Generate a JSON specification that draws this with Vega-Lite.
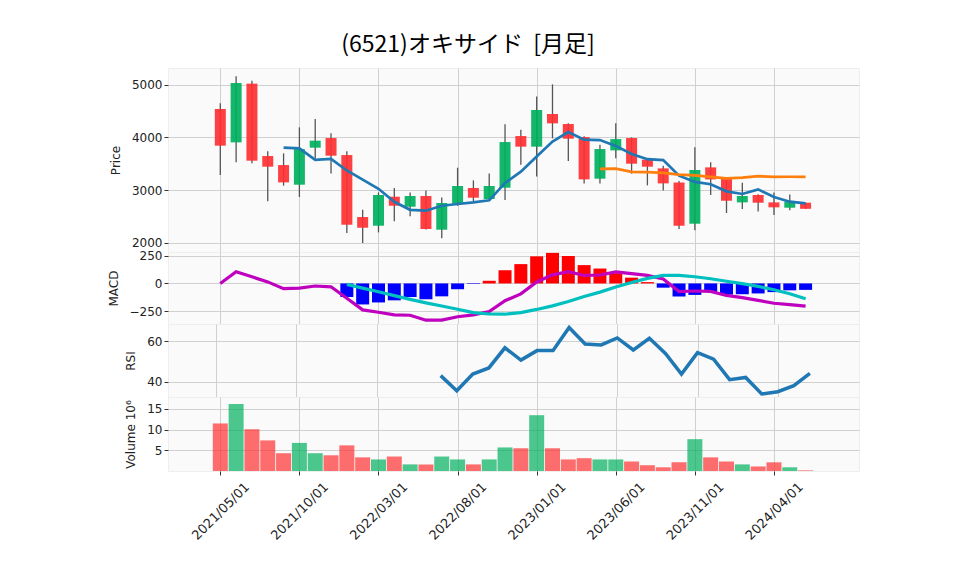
{
  "$schema": "https://vega.github.io/schema/vega-lite/v6.json",
  "padding": {"left": 106, "top": 33, "right": 5, "bottom": 5},
  "bounds": "flush",
  "title": {"text": "(6521)オキサイド\u00a0\u00a0[月足]", "font": "Noto Sans CJK JP", "fontSize": 23, "fontWeight": "normal", "color": "#000", "anchor": "middle", "offset": 11, "dx": -15},
  "datasets": {
    "d": [
      {"i":0,"d":"2021/05/01","o":4538,"h":4646,"l":3285,"c":3842,"v":11.5,"ma5":null,"ma25":null,"macd":0,"sig":null,"hist":null,"rsi":null},
      {"i":1,"d":"2021/06/01","o":3905,"h":5158,"l":3525,"c":5032,"v":16.2,"ma5":null,"ma25":null,"macd":105,"sig":null,"hist":null,"rsi":null},
      {"i":2,"d":"2021/07/01","o":5020,"h":5076,"l":3506,"c":3557,"v":10.1,"ma5":null,"ma25":null,"macd":60,"sig":null,"hist":null,"rsi":null},
      {"i":3,"d":"2021/08/01","o":3645,"h":3734,"l":2785,"c":3443,"v":7.4,"ma5":null,"ma25":null,"macd":14,"sig":null,"hist":null,"rsi":null},
      {"i":4,"d":"2021/09/01","o":3474,"h":3696,"l":3082,"c":3145,"v":4.3,"ma5":3804,"ma25":null,"macd":-47,"sig":null,"hist":null,"rsi":null},
      {"i":5,"d":"2021/10/01","o":3101,"h":4190,"l":2867,"c":3778,"v":6.8,"ma5":3791,"ma25":null,"macd":-42,"sig":null,"hist":null,"rsi":null},
      {"i":6,"d":"2021/11/01","o":3804,"h":4348,"l":3600,"c":3937,"v":4.3,"ma5":3572,"ma25":null,"macd":-23,"sig":null,"hist":null,"rsi":null},
      {"i":7,"d":"2021/12/01","o":3987,"h":4076,"l":3316,"c":3652,"v":3.8,"ma5":3591,"ma25":null,"macd":-30,"sig":null,"hist":null,"rsi":null},
      {"i":8,"d":"2022/01/01","o":3664,"h":3734,"l":2183,"c":2341,"v":6.2,"ma5":3371,"ma25":null,"macd":-133,"sig":-8,"hist":-122,"rsi":null},
      {"i":9,"d":"2022/02/01","o":2487,"h":2626,"l":1993,"c":2284,"v":3.3,"ma5":3198,"ma25":null,"macd":-238,"sig":-42,"hist":-189,"rsi":null},
      {"i":10,"d":"2022/03/01","o":2322,"h":2955,"l":2196,"c":2905,"v":2.8,"ma5":3024,"ma25":null,"macd":-259,"sig":-75,"hist":-171,"rsi":null},
      {"i":11,"d":"2022/04/01","o":2873,"h":3038,"l":2405,"c":2702,"v":3.5,"ma5":2777,"ma25":null,"macd":-283,"sig":-110,"hist":-152,"rsi":null},
      {"i":12,"d":"2022/05/01","o":2683,"h":2955,"l":2500,"c":2886,"v":1.6,"ma5":2624,"ma25":null,"macd":-286,"sig":-143,"hist":-122,"rsi":null},
      {"i":13,"d":"2022/06/01","o":2886,"h":2993,"l":2250,"c":2259,"v":1.6,"ma5":2607,"ma25":null,"macd":-331,"sig":-175,"hist":-143,"rsi":null},
      {"i":14,"d":"2022/07/01","o":2246,"h":2860,"l":2082,"c":2753,"v":3.5,"ma5":2701,"ma25":null,"macd":-330,"sig":-203,"hist":-116,"rsi":43.0},
      {"i":15,"d":"2022/08/01","o":2740,"h":3424,"l":2700,"c":3076,"v":2.8,"ma5":2735,"ma25":null,"macd":-300,"sig":-232,"hist":-52,"rsi":35.5},
      {"i":16,"d":"2022/09/01","o":3038,"h":3183,"l":2778,"c":2854,"v":1.6,"ma5":2766,"ma25":null,"macd":-283,"sig":-262,"hist":-5,"rsi":43.8},
      {"i":17,"d":"2022/10/01","o":2829,"h":3316,"l":2800,"c":3076,"v":2.8,"ma5":2804,"ma25":null,"macd":-253,"sig":-275,"hist":24,"rsi":46.8},
      {"i":18,"d":"2022/11/01","o":3044,"h":4247,"l":2810,"c":3911,"v":5.7,"ma5":3134,"ma25":null,"macd":-155,"sig":-277,"hist":119,"rsi":56.8},
      {"i":19,"d":"2022/12/01","o":4025,"h":4145,"l":3481,"c":3823,"v":5.5,"ma5":3348,"ma25":null,"macd":-94,"sig":-262,"hist":174,"rsi":50.7},
      {"i":20,"d":"2023/01/01","o":3823,"h":4778,"l":3259,"c":4519,"v":13.5,"ma5":3637,"ma25":null,"macd":13,"sig":-234,"hist":244,"rsi":55.4},
      {"i":21,"d":"2023/02/01","o":4443,"h":5006,"l":3981,"c":4266,"v":5.5,"ma5":3919,"ma25":null,"macd":77,"sig":-202,"hist":275,"rsi":55.4},
      {"i":22,"d":"2023/03/01","o":4253,"h":4270,"l":3550,"c":3975,"v":2.8,"ma5":4099,"ma25":null,"macd":106,"sig":-162,"hist":247,"rsi":66.9},
      {"i":23,"d":"2023/04/01","o":4006,"h":4020,"l":3126,"c":3202,"v":3.1,"ma5":3957,"ma25":null,"macd":72,"sig":-118,"hist":165,"rsi":58.7},
      {"i":24,"d":"2023/05/01","o":3215,"h":3860,"l":3126,"c":3778,"v":2.8,"ma5":3948,"ma25":3400,"macd":76,"sig":-78,"hist":134,"rsi":58.2},
      {"i":25,"d":"2023/06/01","o":3753,"h":4266,"l":3601,"c":3968,"v":2.8,"ma5":3838,"ma25":3405,"macd":104,"sig":-32,"hist":92,"rsi":61.7},
      {"i":26,"d":"2023/07/01","o":3987,"h":4000,"l":3310,"c":3500,"v":2.3,"ma5":3685,"ma25":3344,"macd":88,"sig":8,"hist":52,"rsi":55.7},
      {"i":27,"d":"2023/08/01","o":3576,"h":3590,"l":3088,"c":3443,"v":1.4,"ma5":3585,"ma25":3339,"macd":72,"sig":46,"hist":12,"rsi":61.5},
      {"i":28,"d":"2023/09/01","o":3411,"h":3462,"l":2993,"c":3126,"v":0.9,"ma5":3568,"ma25":3326,"macd":40,"sig":72,"hist":-38,"rsi":54.0},
      {"i":29,"d":"2023/10/01","o":3145,"h":3170,"l":2259,"c":2322,"v":2.1,"ma5":3272,"ma25":3293,"macd":-73,"sig":72,"hist":-118,"rsi":43.8},
      {"i":30,"d":"2023/11/01","o":2360,"h":3810,"l":2234,"c":3380,"v":7.7,"ma5":3154,"ma25":3278,"macd":-68,"sig":60,"hist":-103,"rsi":54.4},
      {"i":31,"d":"2023/12/01","o":3430,"h":3525,"l":2905,"c":3202,"v":3.3,"ma5":3110,"ma25":3248,"macd":-72,"sig":42,"hist":-75,"rsi":51.2},
      {"i":32,"d":"2024/01/01","o":3209,"h":3220,"l":2563,"c":2797,"v":2.3,"ma5":2975,"ma25":3220,"macd":-108,"sig":20,"hist":-100,"rsi":41.0},
      {"i":33,"d":"2024/02/01","o":2765,"h":3139,"l":2639,"c":2886,"v":1.6,"ma5":2925,"ma25":3236,"macd":-128,"sig":-2,"hist":-97,"rsi":42.1},
      {"i":34,"d":"2024/03/01","o":2905,"h":2920,"l":2592,"c":2759,"v":1.1,"ma5":3012,"ma25":3262,"macd":-153,"sig":-27,"hist":-90,"rsi":33.9},
      {"i":35,"d":"2024/04/01","o":2765,"h":2955,"l":2525,"c":2671,"v":2.1,"ma5":2866,"ma25":3250,"macd":-178,"sig":-57,"hist":-78,"rsi":35.0},
      {"i":36,"d":"2024/05/01","o":2664,"h":2917,"l":2614,"c":2778,"v":0.9,"ma5":2778,"ma25":3252,"macd":-190,"sig":-92,"hist":-62,"rsi":38.0},
      {"i":37,"d":"2024/06/01","o":2759,"h":2759,"l":2643,"c":2643,"v":0.15,"ma5":2747,"ma25":3250,"macd":-204,"sig":-138,"hist":-58,"rsi":44.1}
    ]
  },
  "vconcat": [
    {
      "width": 691, "height": 184,
      "data": {"name": "d"},
      "encoding": {
        "x": {"field": "i", "type": "quantitative", "scale": {"domain": [-2.99, 40.06], "nice": false, "zero": false},
              "axis": {"values": [0,5,10,15,20,25,30,35], "labels": false, "ticks": false, "title": null, "grid": true, "domain": false, "tickCount": 10}}
      },
      "layer": [
        {"mark": {"type": "rule", "color": "#555555", "strokeWidth": 1.3},
         "encoding": {"y": {"field": "l", "type": "quantitative", "title": "Price", "scale": {"domain": [1823, 5317], "nice": false, "zero": false}, "axis": {"values": [2000,3000,4000,5000], "tickCount": 10, "format": "d", "grid": true, "titlePadding": 9}},
                      "y2": {"field": "h"}}},
        {"mark": {"type": "bar", "orient": "vertical", "size": 11, "opacity": 0.92},
         "encoding": {"y": {"field": "o", "type": "quantitative", "title": "Price", "axis": {"values": [2000,3000,4000,5000], "tickCount": 10, "format": "d", "grid": true, "titlePadding": 9}},
                      "y2": {"field": "c"},
                      "color": {"condition": {"test": "datum.c >= datum.o", "value": "#00b060"}, "value": "#fe3032"}}},
        {"mark": {"type": "line", "color": "#1f77b4", "strokeWidth": 2.7},
         "encoding": {"y": {"field": "ma5", "type": "quantitative", "title": "Price", "axis": {"values": [2000,3000,4000,5000], "tickCount": 10, "format": "d", "grid": true, "titlePadding": 9}}}},
        {"mark": {"type": "line", "color": "#ff7f0e", "strokeWidth": 2.7},
         "encoding": {"y": {"field": "ma25", "type": "quantitative", "title": "Price", "axis": {"values": [2000,3000,4000,5000], "tickCount": 10, "format": "d", "grid": true, "titlePadding": 9}}}}
      ]
    },
    {
      "width": 691, "height": 72,
      "data": {"name": "d"},
      "encoding": {
        "x": {"field": "i", "type": "quantitative", "scale": {"domain": [-2.99, 40.06], "nice": false, "zero": false},
              "axis": {"values": [0,5,10,15,20,25,30,35], "labels": false, "ticks": false, "title": null, "grid": true, "domain": false, "tickCount": 10}}
      },
      "layer": [
        {"mark": {"type": "bar", "orient": "vertical", "size": 13},
         "encoding": {"y": {"field": "hist", "type": "quantitative", "title": "MACD", "scale": {"domain": [-365, 283], "nice": false, "zero": false}, "axis": {"values": [-250, 0, 250], "tickCount": 10, "format": "d", "grid": true, "titlePadding": 9}},
                      "color": {"condition": {"test": "datum.hist >= 0", "value": "#ff0000"}, "value": "#0000ff"}}},
        {"mark": {"type": "line", "color": "#bf00bf", "strokeWidth": 3.2},
         "encoding": {"y": {"field": "macd", "type": "quantitative", "title": "MACD", "axis": {"values": [-250, 0, 250], "tickCount": 10, "format": "d", "grid": true, "titlePadding": 9}}}},
        {"mark": {"type": "line", "color": "#00bfbf", "strokeWidth": 3.2},
         "encoding": {"y": {"field": "sig", "type": "quantitative", "title": "MACD", "axis": {"values": [-250, 0, 250], "tickCount": 10, "format": "d", "grid": true, "titlePadding": 9}}}}
      ]
    },
    {
      "width": 691, "height": 73,
      "data": {"name": "d"},
      "encoding": {
        "x": {"field": "i", "type": "quantitative", "scale": {"domain": [-2.99, 40.06], "nice": false, "zero": false},
              "axis": {"values": [0,5,10,15,20,25,30,35], "labels": false, "ticks": false, "title": null, "grid": true, "domain": false, "tickCount": 10}}
      },
      "layer": [
        {"mark": {"type": "line", "color": "#1f77b4", "strokeWidth": 3.5},
         "encoding": {"y": {"field": "rsi", "type": "quantitative", "title": "RSI", "scale": {"domain": [32.4, 68.6], "nice": false, "zero": false}, "axis": {"values": [40,60], "tickCount": 10, "format": "d", "grid": true, "titlePadding": 9}}}}
      ]
    },
    {
      "width": 691, "height": 74,
      "data": {"name": "d"},
      "encoding": {
        "x": {"field": "i", "type": "quantitative", "scale": {"domain": [-2.99, 40.06], "nice": false, "zero": false},
              "axis": {"values": [0,5,10,15,20,25,30,35], "tickCount": 10, "title": null, "grid": true, "domain": false, "ticks": true, "tickSize": 4,
                       "labelAngle": -45, "labelAlign": "center", "labelBaseline": "middle", "labelPadding": 36, "labelFontSize": 13,
                       "labelExpr": "['2021/05/01','2021/10/01','2022/03/01','2022/08/01','2023/01/01','2023/06/01','2023/11/01','2024/04/01'][datum.value/5]"}}
      },
      "layer": [
        {"mark": {"type": "bar", "orient": "vertical", "size": 15, "fillOpacity": 0.7, "strokeOpacity": 0.6, "strokeWidth": 1},
         "encoding": {"y": {"field": "v", "type": "quantitative", "title": "Volume  10⁶", "scale": {"domain": [0, 17.9], "nice": false, "zero": false}, "axis": {"values": [5,10,15], "tickCount": 10, "format": "d", "grid": true, "titlePadding": 9}},
                      "color": {"condition": {"test": "datum.c >= datum.o", "value": "#00b060"}, "value": "#fe3032"}}}
      ]
    }
  ],
  "config": {
    "view": {"fill": "#fafafa", "stroke": "#eeeeee"},
    "concat": {"spacing": 0},
    "axis": {"labelFont": "DejaVu Sans", "labelFontSize": 12, "labelColor": "#222222", "titleFont": "DejaVu Sans", "titleFontSize": 12, "titleFontWeight": "normal", "titleColor": "#222222",
             "gridColor": "#d0d0d0", "gridWidth": 1, "domain": false, "tickColor": "#333333", "tickSize": 4, "labelOverlap": false}
  }
}
